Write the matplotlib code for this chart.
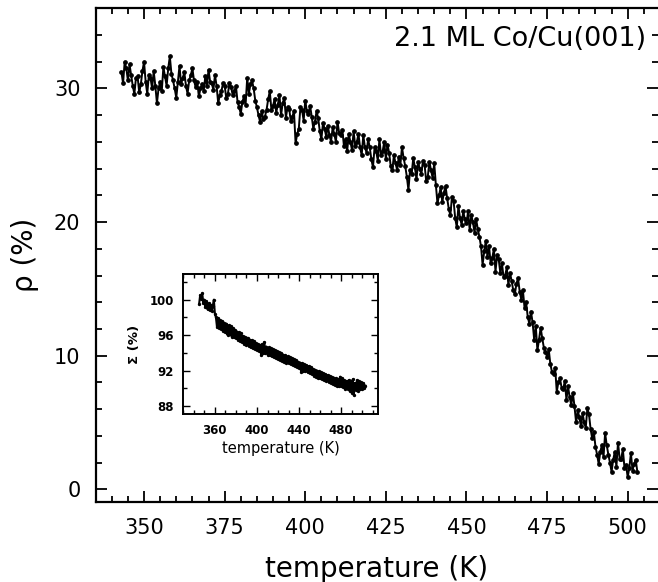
import numpy as np
import matplotlib
matplotlib.use("Agg")
import matplotlib.pyplot as plt
from matplotlib.ticker import MultipleLocator

# ---------------- data ----------------
# main curve: readings at whole kelvin and at the half-kelvin in between
temp_main_a = list(range(343, 504))
rho_a = [31.2, 32.0, 30.6, 31.0, 29.6, 30.9, 30.3, 32.0, 29.6, 30.8,
         31.3, 28.9, 30.5, 31.6, 30.2, 32.4, 30.6, 29.3, 31.7, 30.8,
         30.2, 30.6, 31.5, 30.1, 29.4, 30.3, 30.9, 31.4, 30.4, 31.0,
         28.9, 29.8, 30.2, 29.6, 30.1, 29.8, 29.0, 28.1, 29.4, 30.8,
         30.3, 30.0, 28.6, 27.5, 27.7, 28.4, 29.8, 28.7, 28.2, 29.5,
         28.9, 27.8, 28.5, 27.9, 25.9, 27.0, 28.4, 29.1, 28.1, 27.9,
         27.5, 27.8, 26.2, 27.0, 27.2, 26.0, 26.6, 27.5, 26.5, 25.7,
         25.3, 26.0, 26.8, 26.0, 25.6, 26.5, 25.2, 25.6, 24.1, 25.3,
         26.2, 25.3, 24.7, 25.2, 23.9, 24.4, 24.9, 25.6, 24.2, 22.4,
         23.6, 24.1, 24.5, 23.6, 24.3, 23.4, 23.9, 24.4, 21.4, 22.6,
         22.2, 21.8, 20.5, 21.6, 19.6, 20.3, 20.8, 19.9, 19.4, 20.0,
         20.2, 18.9, 16.8, 18.6, 18.2, 17.3, 16.3, 17.2, 16.9, 16.0,
         15.3, 15.6, 14.6, 15.8, 14.2, 13.6, 12.9, 13.3, 11.2, 10.4,
         12.1, 10.6, 9.9, 9.4, 8.6, 7.3, 8.3, 7.5, 6.7, 6.9,
         7.2, 5.0, 5.4, 5.7, 4.6, 5.6, 3.8, 3.2, 1.9, 3.3,
         4.2, 2.6, 1.3, 2.8, 3.5, 2.3, 1.6, 0.9, 2.7, 1.9,
         1.3]

temp_main_b = [t + 0.5 for t in range(343, 503)]
rho_b = [30.4, 31.5, 31.8, 30.2, 30.8, 29.7, 31.3, 30.5, 31.0, 30.0,
         30.2, 30.0, 29.8, 30.9, 31.5, 31.1, 30.0, 30.5, 30.3, 31.2,
         29.6, 31.0, 30.6, 30.5, 30.0, 29.8, 30.2, 30.5, 29.9, 30.2,
         29.5, 30.4, 29.3, 30.4, 29.5, 30.2, 28.6, 29.0, 28.8, 29.6,
         30.6, 29.1, 28.0, 28.3, 27.9, 29.2, 28.4, 29.2, 28.8, 28.0,
         29.3, 28.6, 27.6, 28.3, 26.6, 28.6, 27.6, 28.3, 28.7, 27.0,
         28.3, 26.8, 27.4, 26.4, 26.5, 27.1, 26.0, 26.7, 26.9, 26.2,
         26.6, 25.4, 25.7, 26.6, 25.0, 25.6, 26.2, 24.7, 25.6, 24.6,
         25.0, 26.0, 25.8, 24.2, 25.0, 23.9, 24.3, 24.8, 23.4, 23.9,
         24.8, 23.2, 24.0, 24.6, 23.1, 24.5, 23.3, 22.8, 22.0, 21.5,
         22.7, 21.0, 21.9, 20.3, 21.2, 19.8, 20.2, 20.8, 20.5, 19.2,
         19.5, 18.2, 17.8, 17.4, 16.9, 18.0, 17.5, 16.2, 15.9, 16.6,
         16.2, 14.9, 15.4, 14.8, 14.9, 14.0, 12.4, 12.5, 12.2, 11.2,
         11.3, 10.3, 10.5, 8.8, 9.1, 8.0, 7.6, 8.1, 7.7, 6.3,
         6.2, 5.9, 4.7, 5.0, 6.1, 4.5, 4.3, 2.6, 2.8, 2.4,
         3.3, 2.0, 2.2, 1.7, 2.3, 3.0, 1.8, 1.6, 1.4, 2.2]

temp_inset = list(range(345, 504))
sigma = [99.5, 100.5, 100.1, 100.7, 99.6, 100.0, 99.2, 99.8, 98.9, 99.6,
         98.8, 99.4, 98.7, 99.3, 100.0, 98.4, 98.0, 96.9, 97.9, 96.8,
         97.7, 96.7, 97.6, 96.5, 97.4, 96.4, 97.3, 96.0, 97.1, 96.1,
         97.0, 95.8, 96.8, 95.8, 96.6, 95.7, 96.4, 95.5, 96.3, 95.3,
         96.2, 95.2, 95.9, 95.0, 95.8, 94.9, 95.7, 94.8, 95.5, 94.6,
         95.4, 94.5, 95.3, 94.4, 95.1, 94.3, 95.0, 94.2, 94.9, 93.7,
         95.0, 94.0, 95.2, 94.0, 94.7, 93.8, 94.6, 93.7, 94.5, 93.6,
         94.4, 93.5, 94.3, 93.4, 94.2, 93.3, 94.1, 93.2, 94.0, 93.1,
         93.8, 93.0, 93.7, 92.9, 93.6, 92.8, 93.5, 92.7, 93.4, 92.6,
         93.3, 92.5, 93.2, 92.4, 93.0, 92.3, 92.9, 91.8, 92.8, 92.0,
         92.7, 91.9, 92.6, 91.8, 92.5, 91.7, 92.4, 91.6, 92.2, 91.4,
         92.1, 91.3, 92.0, 91.2, 91.9, 91.1, 91.8, 91.0, 91.7, 90.9,
         91.6, 90.8, 91.5, 90.7, 91.4, 90.6, 91.3, 90.5, 91.2, 90.4,
         91.1, 90.3, 91.0, 90.2, 91.3, 90.3, 91.1, 90.1, 90.9, 89.9,
         90.8, 89.9, 90.9, 89.7, 90.8, 89.5, 91.0, 89.2, 90.6, 89.8,
         90.9, 89.7, 90.8, 89.9, 90.7, 89.9, 90.6, 90.0, 90.3]

main_xticks = [350, 375, 400, 425, 450, 475, 500]
main_yticks = [0, 10, 20, 30]
inset_xticks = [360, 400, 440, 480]
inset_yticks = [88, 92, 96, 100]

# merge the two sets of readings in temperature order
pairs = sorted(zip(temp_main_a + temp_main_b, rho_a + rho_b))
temp_main = [p[0] for p in pairs]
rho = [p[1] for p in pairs]

# ---------------- figure ----------------
plt.rcParams['font.family'] = ['DejaVu Sans']
fig = plt.figure(figsize=(6.58, 5.82), dpi=100)

ax = fig.add_axes([0.1454, 0.138, 1.0 - 0.1454, 0.8477])
ax.plot(temp_main, rho, color='black', lw=1.4, marker='o', ms=2.4,
        mec='black', mfc='black')
ax.set_xlim(335, 509.4)
ax.set_ylim(-0.93, 36.0)
ax.set_xticks(main_xticks)
ax.set_yticks(main_yticks)
ax.xaxis.set_minor_locator(MultipleLocator(5))
ax.yaxis.set_minor_locator(MultipleLocator(2))
ax.tick_params(which='both', direction='in', top=True, right=True,
               width=1.3, colors='black')
ax.tick_params(which='major', length=8)
ax.tick_params(which='minor', length=4)
ax.tick_params(axis='x', which='major', labelsize=15, pad=12)
ax.tick_params(axis='y', which='major', labelsize=15, pad=11)
for side in ['left', 'bottom', 'top']:
    ax.spines[side].set_linewidth(1.6)
ax.spines['right'].set_visible(False)
ax.set_xlabel('temperature (K)', fontsize=20, labelpad=12)
ax.set_ylabel('ρ (%)', fontsize=20, labelpad=11)
ax.text(0.978, 0.965, '2.1 ML Co/Cu(001)', transform=ax.transAxes,
        ha='right', va='top', fontsize=19.5)

# ---------------- inset ----------------
ins = fig.add_axes([0.2786, 0.2881, 0.2959, 0.2411])
ins.plot(temp_inset, sigma, color='black', lw=1.5, marker='o', ms=1.4)
ins.set_xlim(330, 515)
ins.set_ylim(87.05, 102.9)
ins.set_xticks(inset_xticks)
ins.set_yticks(inset_yticks)
ins.xaxis.set_minor_locator(MultipleLocator(10))
ins.yaxis.set_minor_locator(MultipleLocator(2))
ins.tick_params(which='both', direction='in', top=True, right=True,
                width=1.0)
ins.tick_params(which='major', length=5)
ins.tick_params(which='minor', length=3)
ins.tick_params(axis='both', which='major', labelsize=8.5, pad=7)
for lab in ins.get_xticklabels() + ins.get_yticklabels():
    lab.set_fontweight('bold')
for side in ins.spines.values():
    side.set_linewidth(1.4)
ins.set_xlabel('temperature (K)', fontsize=10.5, labelpad=3)
ins.set_ylabel('Σ (%)', fontsize=9.5, fontweight='bold', labelpad=6)

fig.savefig('out.png', dpi=100)
